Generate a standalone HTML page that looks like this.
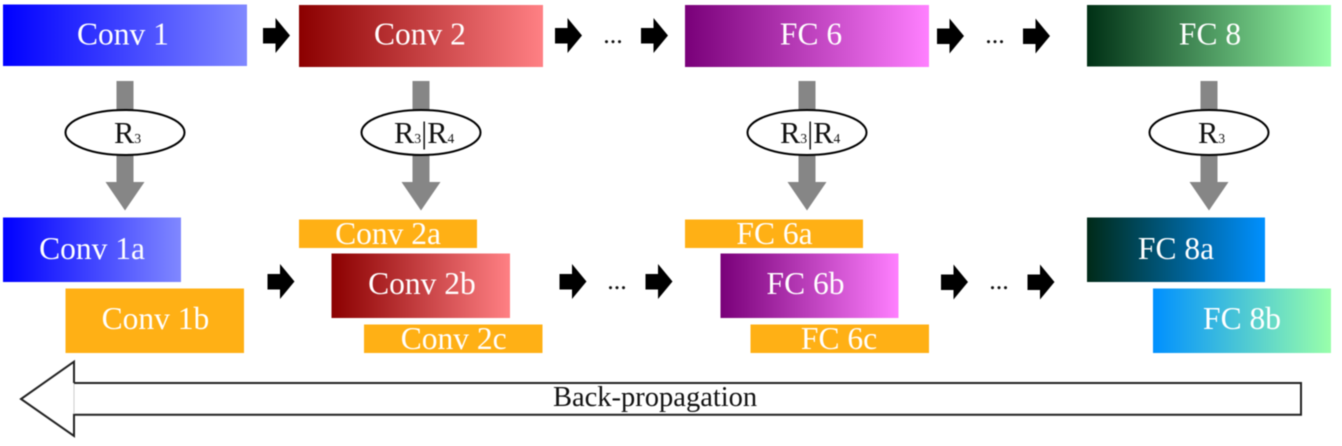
<!DOCTYPE html>
<html>
<head>
<meta charset="utf-8">
<style>
html,body{margin:0;padding:0;background:#fff;width:1342px;height:446px;overflow:hidden}
svg{display:block;filter:blur(0.4px)}
text{font-family:"Liberation Serif",serif}
.w{fill:#fff;font-size:31.5px;text-anchor:middle}
.k{fill:#111;font-size:30.5px}
.s{font-size:13.5px}
.d{fill:#111;font-size:26px;text-anchor:middle}
</style>
</head>
<body>
<svg width="1342" height="446" viewBox="0 0 1342 446" xmlns="http://www.w3.org/2000/svg">
<defs>
<linearGradient id="b"><stop offset="0" stop-color="#0000ff"/><stop offset="1" stop-color="#8088ff"/></linearGradient>
<linearGradient id="r"><stop offset="0" stop-color="#8b0000"/><stop offset="1" stop-color="#ff8084"/></linearGradient>
<linearGradient id="p"><stop offset="0" stop-color="#790079"/><stop offset="1" stop-color="#ff80ff"/></linearGradient>
<linearGradient id="g"><stop offset="0" stop-color="#003015"/><stop offset="1" stop-color="#99ffaa"/></linearGradient>
<linearGradient id="t"><stop offset="0" stop-color="#002a18"/><stop offset="1" stop-color="#0090ff"/></linearGradient>
<linearGradient id="c"><stop offset="0" stop-color="#0090ff"/><stop offset="1" stop-color="#99ffaa"/></linearGradient>
<path id="a" d="M0 10H12.500V0L27 17.500 12.500 35V25.500H0Z" fill="#000"/>
<path id="v" d="M-8.500 81H8.500V182H19.500L0 210.500-19.500 182H-8.500Z" fill="#868686"/>
</defs>

<rect x="3" y="4.500" width="244" height="61.500" fill="url(#b)"/>
<rect x="299" y="5" width="244" height="62" fill="url(#r)"/>
<rect x="685" y="5" width="244" height="62" fill="url(#p)"/>
<rect x="1087" y="5" width="244" height="61.500" fill="url(#g)"/>

<text class="w" x="123" y="44.500">Conv 1</text>
<text class="w" x="420" y="44.500">Conv 2</text>
<text class="w" x="811" y="44.500">FC 6</text>
<text class="w" x="1210" y="44.500">FC 8</text>

<use href="#a" x="263" y="18"/>
<use href="#a" x="555" y="18"/>
<use href="#a" x="641" y="18"/>
<use href="#a" x="937" y="18.500"/>
<use href="#a" x="1023" y="18.500"/>
<text class="d" x="613" y="43">...</text>
<text class="d" x="995" y="43">...</text>

<use href="#v" x="125"/>
<use href="#v" x="421"/>
<use href="#v" x="807"/>
<use href="#v" x="1209"/>

<g fill="#fff" stroke="#000" stroke-width="2">
<ellipse cx="125" cy="132.500" rx="59.500" ry="22.500"/>
<ellipse cx="421" cy="132.500" rx="59.500" ry="22.500"/>
<ellipse cx="807" cy="132.500" rx="59.500" ry="22.500"/>
<ellipse cx="1209" cy="132.500" rx="59.500" ry="22.500"/>
</g>

<text class="k" x="114" y="143">R<tspan class="s">3</tspan></text>
<text class="k" x="394" y="143">R<tspan class="s">3</tspan>|R<tspan class="s">4</tspan></text>
<text class="k" x="780" y="143">R<tspan class="s">3</tspan>|R<tspan class="s">4</tspan></text>
<text class="k" x="1198" y="143">R<tspan class="s">3</tspan></text>

<rect x="3" y="217.500" width="178" height="64.500" fill="url(#b)"/>
<rect x="65.500" y="288.500" width="178.500" height="64.500" fill="#ffb015"/>
<rect x="299" y="219.500" width="178" height="28.500" fill="#ffb015"/>
<rect x="331.500" y="253.500" width="178.500" height="64.500" fill="url(#r)"/>
<rect x="364" y="324.500" width="178.500" height="28.500" fill="#ffb015"/>
<rect x="685" y="219.500" width="178" height="28.500" fill="#ffb015"/>
<rect x="720.500" y="253.500" width="178" height="64.500" fill="url(#p)"/>
<rect x="750.500" y="324.500" width="178.500" height="28.500" fill="#ffb015"/>
<rect x="1087" y="217.500" width="178" height="64.500" fill="url(#t)"/>
<rect x="1153" y="288.500" width="178" height="64.500" fill="url(#c)"/>

<text class="w" x="92" y="259">Conv 1a</text>
<text class="w" x="155.500" y="329">Conv 1b</text>
<text class="w" x="388" y="244">Conv 2a</text>
<text class="w" x="422" y="294">Conv 2b</text>
<text class="w" x="453.700" y="349">Conv 2c</text>
<text class="w" x="774.500" y="244">FC 6a</text>
<text class="w" x="805.500" y="294">FC 6b</text>
<text class="w" x="839" y="349">FC 6c</text>
<text class="w" x="1176" y="259">FC 8a</text>
<text class="w" x="1242" y="329">FC 8b</text>

<use href="#a" x="267.500" y="264"/>
<use href="#a" x="559.500" y="264"/>
<use href="#a" x="645.500" y="264"/>
<use href="#a" x="941" y="264.500"/>
<use href="#a" x="1027.500" y="264.500"/>
<text class="d" x="617" y="289">...</text>
<text class="d" x="999" y="289">...</text>

<path d="M74 383H1301V414.700H74V436L21 399 74 361.700Z" fill="#fff"/>
<path d="M74 383V361.700L21 399 74 436V414.700H1301V383H74" fill="none" stroke="#222" stroke-width="2"/>
<path d="M74 384V414" stroke="#ccc" stroke-width="1" fill="none"/>
<text x="553" y="406" style="font-size:28.500px;fill:#111">Back-propagation</text>
</svg>
</body>
</html>
